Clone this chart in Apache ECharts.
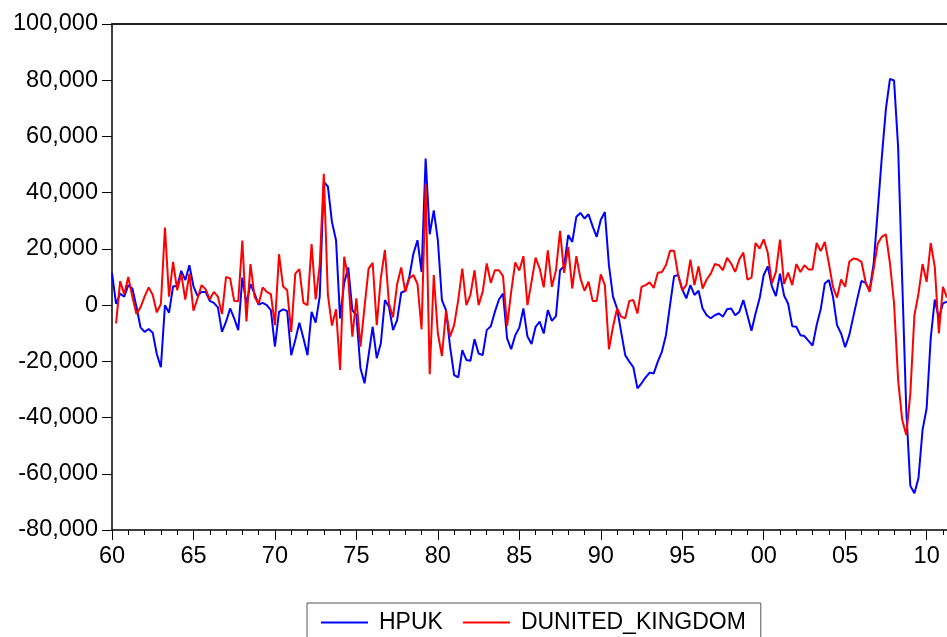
<!DOCTYPE html>
<html>
<head>
<meta charset="utf-8">
<script src="https://cdn.jsdelivr.net/npm/echarts@6/dist/echarts.min.js"></script>
<style>
html,body{margin:0;padding:0;background:#fff;}
#chart{width:947px;height:637px;}
</style>
</head>
<body>
<div id="chart"></div>
<script>
// Quarterly series, 1960Q1 .. 2011Q2
const startYear = 1960;
const nQuarters = 206;

const hpuk = [
 11500, 400, 4100, 3000, 7100, 5900, -600, -7900, -9500, -8500,
 -9800, -17400, -22100, 0, -2700, 6700, 6700, 12200, 8900, 14200,
 6700, 3300, 4700, 4700, 1500, 800, -800, -9500, -5900, -1200,
 -4700, -8900, 9800, 500, 7500, 4100, 200, 800, 0, -1800,
 -14800, -2400, -1500, -2100, -17800, -12400, -6300, -11800, -17800, -2400,
 -6200, 3000, 43800, 42200, 29600, 23100, -4700, 7900, 13400, -1800,
 -3600, -22500, -27800, -17800, -7700, -18900, -13600, 1800, -600, -8900,
 -5300, 4400, 5100, 10100, 18300, 23100, 11800, 52100, 25200, 33700,
 23100, 1800, -1800, -14800, -24900, -25700, -16000, -19500, -19800, -12100,
 -17200, -17800, -8900, -7500, -2400, 2000, 4100, -11800, -15700, -10700,
 -8000, -1200, -11200, -13800, -7700, -5900, -10100, -1800, -5600, -3900,
 12400, 13800, 24900, 22500, 31400, 32800, 30800, 32300, 28000, 24300,
 30400, 33100, 14200, 3000, -1200, -9500, -17800, -20100, -22100, -29600,
 -27800, -25700, -24000, -24300, -20100, -16600, -10700, 0, 10300, 10700,
 5600, 2400, 7100, 3600, 5100, -1200, -3600, -4700, -3600, -3000,
 -4100, -1500, -1200, -3600, -2400, 1800, -3600, -9100, -3000, 2400,
 10700, 13800, 6700, 3200, 11200, 3400, 500, -7500, -7700, -10700,
 -11000, -12700, -14400, -7100, -1500, 7700, 8900, 3000, -7100, -10100,
 -15000, -10700, -4100, 2400, 8600, 7900, 5300, 14800, 33700, 52700,
 69800, 80500, 79900, 56200, 8900, -37300, -64300, -66900, -61500, -44400,
 -36700, -11800, 2000, -4700, 600, 1200
];

const dunitedKingdom = [
 null, -6500, 8500, 3900, 10000, 3000, -3200, -800, 3000, 6300,
 3600, -2600, 400, 27600, 3000, 15400, 5300, 11000, 2000, 11200,
 -2000, 2400, 7100, 5600, 2000, 4700, 3000, -3200, 10000, 9500,
 1500, 1400, 23000, -5800, 14600, 3000, 400, 6300, 4700, 3900,
 -7100, 18100, 6700, 5300, -9500, 11200, 12800, 800, 0, 21700,
 2000, 14200, 46700, 3600, -7300, -1500, -23100, 17200, 9500, -11200,
 2400, -14800, -600, 13000, 15000, -7100, 9600, 19600, 600, -4400,
 7500, 13400, 4700, 9500, 10700, 7500, -8600, 43000, -24600, 10700,
 -10100, -18100, -2000, -11200, -7100, 1800, 13000, 0, 3600, 12400,
 0, 4700, 14800, 7900, 12400, 12400, 10300, -7500, 4700, 15200,
 12300, 17400, 0, 8300, 16900, 13000, 6300, 19500, 6500, 12400,
 26400, 11500, 20700, 5900, 17400, 9500, 5100, 8300, 1500, 1500,
 10900, 7100, -15700, -7700, -1200, -4100, -4700, 1500, 1800, -3000,
 6500, 7100, 8100, 6100, 11500, 11800, 14200, 19300, 19300, 10700,
 5300, 7100, 16200, 7100, 13800, 5900, 9100, 11200, 14600, 14200,
 12400, 16800, 14800, 11800, 16200, 18700, 9100, 9800, 22100, 20100,
 23400, 18600, 7700, 11800, 23300, 7500, 11600, 7100, 14600, 11800,
 14200, 12700, 12700, 22100, 19200, 22500, 14800, 6500, 2700, 9100,
 6500, 15400, 16600, 16300, 15400, 8300, 4700, 13000, 21900, 24300,
 25200, 14800, 600, -26600, -40800, -46200, -31400, -3600, 4100, 14600,
 8300, 22100, 13600, -10100, 6500, 2700
];

const seriesNames = ['HPUK', 'DUNITED_KINGDOM'];

const quarters = [];
for (let i = 0; i < nQuarters; i++) {
  quarters.push((startYear + Math.floor(i / 4)) + 'Q' + (i % 4 + 1));
}

const FONT = '"Liberation Sans", Arial, sans-serif';

const chart = echarts.init(document.getElementById('chart'), null, {renderer: 'canvas'});

function fmtThousands(v) {
  return String(v).replace(/\B(?=(\d{3})+(?!\d))/g, ',');
}

chart.setOption({
  animation: false,
  backgroundColor: '#fff',
  grid: {left: 112, top: 24, right: 0, bottom: 107, containLabel: false},
  legend: {
    data: seriesNames,
    left: 307,
    top: 603,
    orient: 'horizontal',
    borderColor: '#555',
    borderWidth: 1,
    padding: [8, 15, 8, 14],
    itemWidth: 47,
    itemHeight: 2,
    itemGap: 20,
    icon: 'rect',
    textStyle: {fontSize: 23, color: '#000', fontFamily: FONT, padding: [0, 0, 0, 6]}
  },
  xAxis: [
    {
      type: 'category',
      data: quarters,
      boundaryGap: false,
      position: 'bottom',
      axisLine: {onZero: false, lineStyle: {color: '#000', width: 1.5}},
      axisTick: {interval: function (i) { return i % 4 === 0; }, length: 5, lineStyle: {color: '#000', width: 1}},
      axisLabel: {show: false},
      splitLine: {show: false}
    },
    {
      type: 'category',
      data: quarters,
      boundaryGap: false,
      position: 'bottom',
      axisLine: {show: false, onZero: false},
      axisTick: {interval: function (i) { return i % 20 === 0; }, length: 10, lineStyle: {color: '#000', width: 1}},
      axisLabel: {
        interval: function (i) { return i % 20 === 0; },
        formatter: function (v) { return v.substr(2, 2); },
        margin: 15,
        fontSize: 23.5,
        color: '#000',
        fontFamily: FONT
      },
      splitLine: {show: false}
    },
    {
      type: 'category',
      data: quarters,
      boundaryGap: false,
      position: 'top',
      axisLine: {onZero: false, lineStyle: {color: '#222', width: 2}},
      axisTick: {show: false},
      axisLabel: {show: false},
      splitLine: {show: false}
    }
  ],
  yAxis: {
    type: 'value',
    min: -80000,
    max: 100000,
    interval: 20000,
    axisLine: {show: true, lineStyle: {color: '#000', width: 1.5}},
    axisTick: {show: true, length: 10, lineStyle: {color: '#000', width: 1}},
    axisLabel: {
      formatter: fmtThousands,
      margin: 14,
      fontSize: 23.5,
      color: '#000',
      fontFamily: FONT
    },
    splitLine: {show: false}
  },
  series: [
    {
      name: seriesNames[0],
      type: 'line',
      xAxisIndex: 0,
      data: hpuk,
      showSymbol: false,
      symbol: 'none',
      color: '#0000ff',
      lineStyle: {color: '#0000ff', width: 2}
    },
    {
      name: seriesNames[1],
      type: 'line',
      xAxisIndex: 0,
      data: dunitedKingdom,
      showSymbol: false,
      symbol: 'none',
      color: '#ff0000',
      lineStyle: {color: '#ff0000', width: 2}
    }
  ]
});
</script>
</body>
</html>
